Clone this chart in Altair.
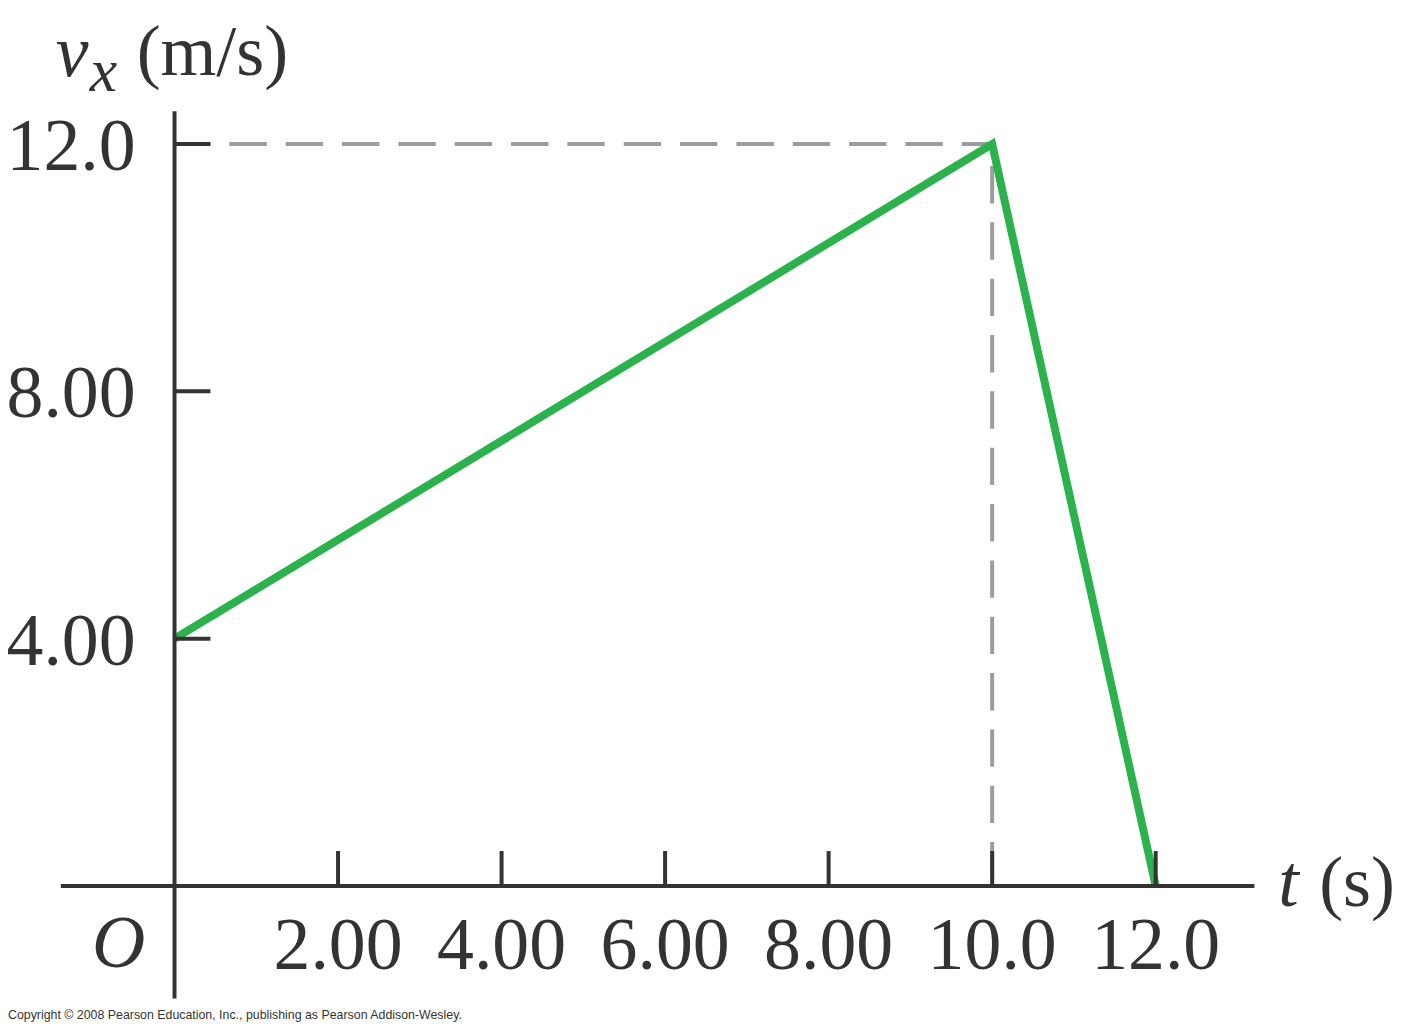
import altair as alt
import pandas as pd

# ---------------- data ----------------
t_values = [0.0, 10.0, 12.0]
v_values = [4.0, 12.0, 0.0]

x_ticks = [2.0, 4.0, 6.0, 8.0, 10.0, 12.0]
x_tick_labels = ["2.00", "4.00", "6.00", "8.00", "10.0", "12.0"]
y_ticks = [4.0, 8.0, 12.0]
y_tick_labels = ["4.00", "8.00", "12.0"]

peak_t = 10.0
peak_v = 12.0

# ---------------- layout (pixels) ----------------
W, H = 1390, 1020
ORIGIN_X, ORIGIN_Y = 167.0, 879.0     # position of (0,0) in plot coords
PX_T, PX_V = 82.0, 62.0               # pixels per unit
X_AXIS_LEFT_PX, X_AXIS_RIGHT_PX = 53.0, 1250.0
Y_AXIS_TOP_PX, Y_AXIS_BOTTOM_PX = 102.0, 992.0
YTICK_LEN, XTICK_LEN = 36.0, 35.0

x_dom = [-ORIGIN_X / PX_T, (W - ORIGIN_X) / PX_T]
y_dom = [-(H - ORIGIN_Y) / PX_V, ORIGIN_Y / PX_V]

x_ax_min = (X_AXIS_LEFT_PX - ORIGIN_X) / PX_T
x_ax_max = (X_AXIS_RIGHT_PX - ORIGIN_X) / PX_T
y_ax_min = (ORIGIN_Y - Y_AXIS_BOTTOM_PX) / PX_V
y_ax_max = (ORIGIN_Y - Y_AXIS_TOP_PX) / PX_V

xs = alt.Scale(domain=x_dom, nice=False, zero=False)
ys = alt.Scale(domain=y_dom, nice=False, zero=False)

INK = "#333333"
GREEN = "#2bb24c"
GRAY = "#9c9c9c"
SERIF = "Liberation Serif"

def X(field):
    return alt.X(field, type="quantitative", scale=xs, axis=None)

def Y(field):
    return alt.Y(field, type="quantitative", scale=ys, axis=None)

# ---------------- tables ----------------
curve = pd.DataFrame({"t": t_values, "v": v_values})
hguide = pd.DataFrame({"x": [0.0], "x2": [peak_t], "y": [peak_v]})
vguide = pd.DataFrame({"x": [peak_t], "y": [peak_v], "y2": [0.0]})
xaxis = pd.DataFrame({"x": [x_ax_min], "x2": [x_ax_max], "y": [0.0]})
yaxis = pd.DataFrame({"x": [0.0], "y": [y_ax_min], "y2": [y_ax_max]})
xt = pd.DataFrame({"x": x_ticks, "y": [0.0] * len(x_ticks),
                   "y2": [XTICK_LEN / PX_V] * len(x_ticks), "lab": x_tick_labels})
yt = pd.DataFrame({"y": y_ticks, "x": [0.0] * len(y_ticks),
                   "x2": [YTICK_LEN / PX_T] * len(y_ticks), "lab": y_tick_labels})
origin = pd.DataFrame({"x": [0.0], "y": [0.0], "lab": ["O"]})
xend = pd.DataFrame({"x": [x_ax_max], "y": [0.0]})
ytop = pd.DataFrame({"x": [0.0], "y": [y_ax_max]})

# ---------------- layers ----------------
h_dash = alt.Chart(hguide).mark_rule(
    color=GRAY, strokeWidth=4, strokeDash=[37.5, 19], strokeDashOffset=1.5
).encode(x=X("x"), x2="x2", y=Y("y"))

v_dash = alt.Chart(vguide).mark_rule(
    color=GRAY, strokeWidth=4, strokeDash=[37.5, 19], strokeDashOffset=34.5
).encode(x=X("x"), y=Y("y"), y2="y2")

line = alt.Chart(curve).mark_line(
    color=GREEN, strokeWidth=8, strokeJoin="miter", strokeCap="butt"
).encode(x=X("t"), y=Y("v"), order="t:Q")

x_axis_line = alt.Chart(xaxis).mark_rule(color=INK, strokeWidth=4).encode(
    x=X("x"), x2="x2", y=Y("y"))
y_axis_line = alt.Chart(yaxis).mark_rule(color=INK, strokeWidth=4).encode(
    x=X("x"), y=Y("y"), y2="y2")

x_tick_marks = alt.Chart(xt).mark_rule(color=INK, strokeWidth=4).encode(
    x=X("x"), y=Y("y"), y2="y2")
y_tick_marks = alt.Chart(yt).mark_rule(color=INK, strokeWidth=4).encode(
    x=X("x"), x2="x2", y=Y("y"))

x_labels = alt.Chart(xt).mark_text(
    font=SERIF, fontSize=74, color=INK, align="center", baseline="alphabetic", dy=83
).encode(x=X("x"), y=Y("y"), text="lab:N")

y_labels = alt.Chart(yt).mark_text(
    font=SERIF, fontSize=74, color=INK, align="right", baseline="alphabetic", dx=-39, dy=26
).encode(x=X("x"), y=Y("y"), text="lab:N")

o_label = alt.Chart(origin).mark_text(
    font=SERIF, fontSize=74, fontStyle="italic", color=INK, align="center",
    baseline="alphabetic", dx=-56, dy=81
).encode(x=X("x"), y=Y("y"), text="lab:N")

t_label = alt.Chart(xend).mark_text(
    font=SERIF, fontSize=74, fontStyle="italic", color=INK, align="left",
    baseline="alphabetic", dx=24, dy=20, text="t"
).encode(x=X("x"), y=Y("y"))
s_label = alt.Chart(xend).mark_text(
    font=SERIF, fontSize=72, color=INK, align="left",
    baseline="alphabetic", dx=65, dy=20, text="(s)"
).encode(x=X("x"), y=Y("y"))

v_label = alt.Chart(ytop).mark_text(
    font=SERIF, fontSize=74, fontStyle="italic", color=INK, align="left",
    baseline="alphabetic", dx=-119, dy=-35, text="v"
).encode(x=X("x"), y=Y("y"))
sub_label = alt.Chart(ytop).mark_text(
    font=SERIF, fontSize=62, fontStyle="italic", color=INK, align="left",
    baseline="alphabetic", dx=-85, dy=-20, text="x"
).encode(x=X("x"), y=Y("y"))
unit_label = alt.Chart(ytop).mark_text(
    font=SERIF, fontSize=72, color=INK, align="left",
    baseline="alphabetic", dx=-38, dy=-36, text="(m/s)"
).encode(x=X("x"), y=Y("y"))

copyright_txt = alt.Chart(pd.DataFrame({"c": [0]})).mark_text(
    font="Liberation Sans", fontSize=12.4, color=INK, align="left", baseline="alphabetic",
    text="Copyright \u00a9 2008 Pearson Education, Inc., publishing as Pearson Addison-Wesley."
).encode(x=alt.value(0), y=alt.value(1012))

chart = alt.layer(
    h_dash, v_dash, line, x_axis_line, y_axis_line, x_tick_marks, y_tick_marks,
    x_labels, y_labels, o_label, t_label, s_label, v_label, sub_label, unit_label,
    copyright_txt
).properties(
    width=W, height=H, padding=0, background="white",
    autosize=alt.AutoSizeParams(type="none")
).configure_view(stroke=None, strokeWidth=0)

chart.save("out.html", embed_options={"renderer": "svg", "actions": False})
